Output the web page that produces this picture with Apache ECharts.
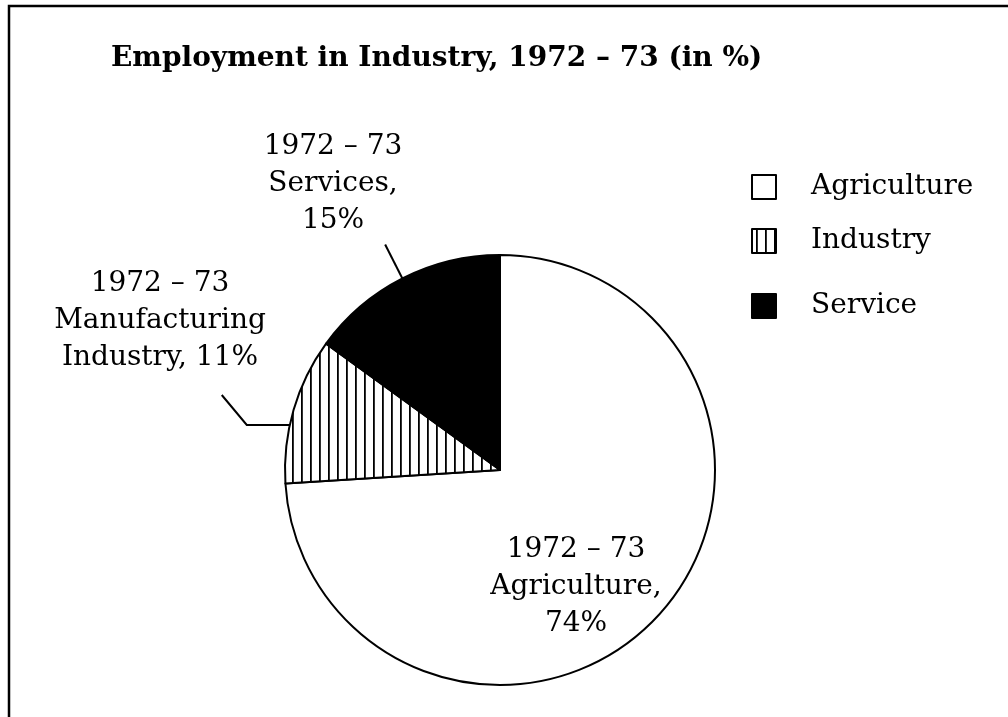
<!DOCTYPE html>
<html>
<head>
<meta charset="utf-8">
<script src="https://cdn.jsdelivr.net/npm/echarts@6/dist/echarts.min.js"></script>
<style>
html, body { margin: 0; padding: 0; background: #fff; }
#main { width: 1008px; height: 717px; }
</style>
</head>
<body>
<div id="main"></div>
<script>
// data
var categories = ['Agriculture', 'Industry', 'Service'];
var shares = [74, 11, 15];
var sliceLabels = ['1972 – 73\nAgriculture,\n74%', '1972 – 73\nManufacturing\nIndustry, 11%', '1972 – 73\nServices,\n15%'];

var serif = '"DejaVu Serif", "Liberation Serif", serif';
var cx = 500, cy = 470, R = 215;

// hatch pattern for Industry (vertical lines)
var hatch = document.createElement('canvas');
hatch.width = 9;
hatch.height = 9;
var hc = hatch.getContext('2d');
hc.fillStyle = '#fff';
hc.fillRect(0, 0, 9, 9);
hc.fillStyle = '#000';
hc.fillRect(4, 0, 1.8, 9);

var fills = ['#ffffff', { image: hatch, repeat: 'repeat' }, '#000000'];

var pieData = categories.map(function (c, i) {
    return {
        name: c,
        value: shares[i],
        itemStyle: { color: fills[i] },
        label: { formatter: sliceLabels[i] }
    };
});

// where each label sits (center of the text block)
var labelPos = [[576, 587], [160, 321], [333, 184]];

var myChart = echarts.init(document.getElementById('main'));
var option = {
    backgroundColor: '#fff',
    animation: false,
    title: {
        text: 'Employment in Industry, 1972 – 73 (in %)',
        left: 106,
        top: 40,
        textStyle: { fontFamily: serif, fontWeight: 'bold', fontSize: 28, color: '#000' }
    },
    legend: [0, 1, 2].map(function (i) {
        return {
            data: [categories[i]],
            orient: 'vertical',
            left: 746,
            top: [168, 222, 287][i],
            icon: 'rect',
            itemWidth: 24,
            itemHeight: 24,
            selectedMode: false,
            textStyle: { fontFamily: serif, fontSize: 28, color: '#000', padding: [0, 0, 0, 30] }
        };
    }),
    graphic: [{
        type: 'polyline',
        shape: { points: [[9, 717], [9, 6], [1008, 6]] },
        style: { stroke: '#000', lineWidth: 2.5, fill: null }
    }],
    series: [{
        type: 'pie',
        center: [cx, cy],
        radius: R,
        startAngle: 90,
        clockwise: true,
        data: pieData,
        itemStyle: { borderColor: '#000', borderWidth: 2 },
        label: {
            show: true,
            position: 'outside',
            fontFamily: serif,
            fontSize: 28,
            lineHeight: 37,
            color: '#000',
            align: 'center'
        },
        labelLine: {
            show: true,
            length: 20,
            length2: 20,
            lineStyle: { color: '#000', width: 2 }
        },
        emphasis: { disabled: true },
        labelLayout: function (params) {
            var i = params.dataIndex;
            var p = labelPos[i];
            var out = { x: p[0], y: p[1], align: 'center', verticalAlign: 'middle' };
            if (i === 0) {
                out.labelLinePoints = [[cx, cy], [cx, cy], [cx, cy]];
            } else if (i === 1) {
                var ay = cy - 45;
                var ax = cx - Math.sqrt(R * R - 45 * 45);
                out.labelLinePoints = [[ax, ay], [ax - 43, ay], [ax - 68, ay - 30]];
            } else {
                var a = (90 + 360 * 7.5 / 100) * Math.PI / 180;
                var ex = cx - Math.sin(a - Math.PI / 2) * R;
                var ey = cy - Math.cos(a - Math.PI / 2) * R;
                var ux = (ex - cx) / R, uy = (ey - cy) / R;
                out.labelLinePoints = [[ex, ey], [ex + ux * 38, ey + uy * 38], [ex + ux * 38, ey + uy * 38]];
            }
            return out;
        }
    }]
};
myChart.setOption(option);
</script>
</body>
</html>
